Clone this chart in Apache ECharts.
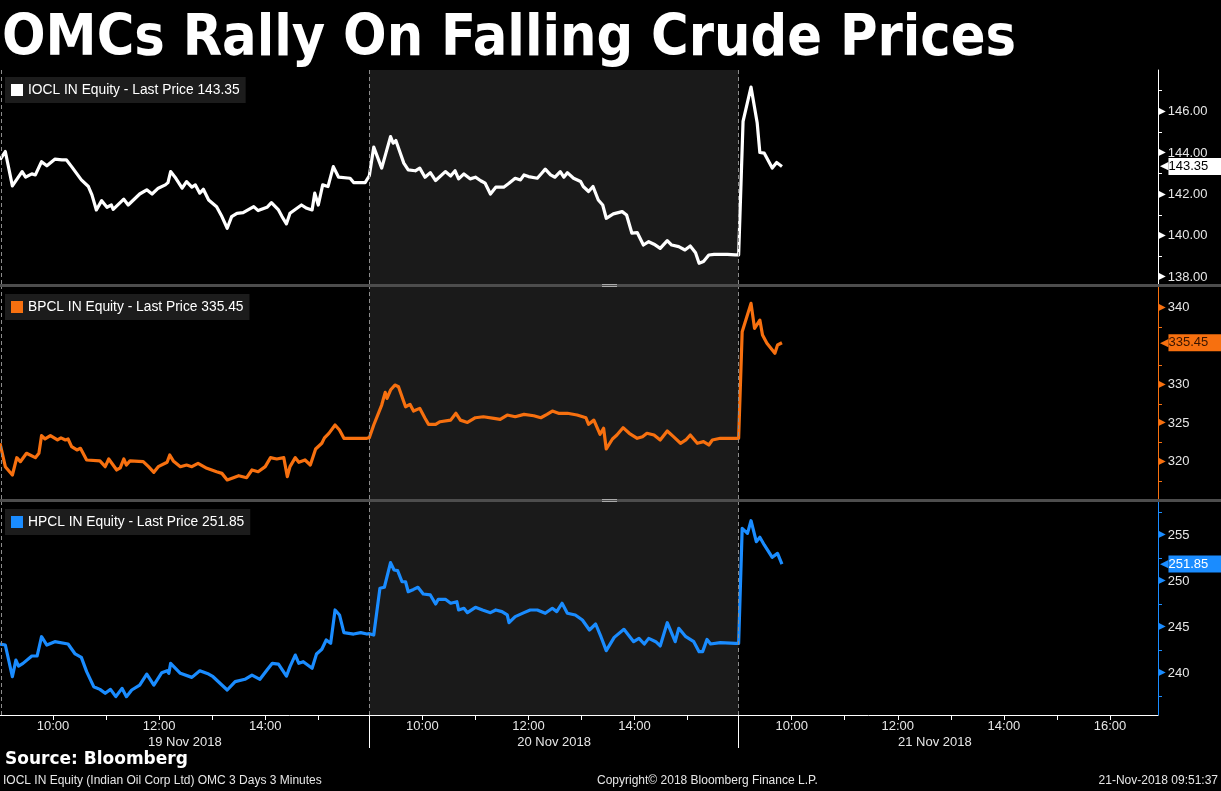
<!DOCTYPE html>
<html>
<head>
<meta charset="utf-8">
<script src="https://cdn.jsdelivr.net/npm/echarts@6/dist/echarts.min.js"></script>
<style>
html,body{margin:0;padding:0;background:#000;}
#chart{width:1221px;height:791px;}
</style>
</head>
<body>
<div id="chart"></div>
<script>
// ---------- data ----------
const TITLE = 'OMCs Rally On Falling Crude Prices';
const DATES = ['19 Nov 2018', '20 Nov 2018', '21 Nov 2018'];
const HOUR_LABELS = [['10:00','12:00','14:00'], ['10:00','12:00','14:00'], ['10:00','12:00','14:00','16:00']];
const HOUR_TICKS = [['10:00','11:00','12:00','13:00','14:00','15:00'],
                    ['10:00','11:00','12:00','13:00','14:00','15:00'],
                    ['10:00','11:00','12:00','13:00','14:00','15:00','16:00']];
const DATE_LABEL_TIME = ['12:29', '12:29', '12:42'];

const NAMES = ['IOCL IN Equity - Last Price 143.35', 'BPCL IN Equity - Last Price 335.45', 'HPCL IN Equity - Last Price 251.85'];
const LAST = [143.35, 335.45, 251.85];

const IOCL_LABELS = [138, 140, 142, 144, 146];
const IOCL_MINOR = [139, 141, 143, 145, 147];
const BPCL_LABELS = [320, 325, 330, 340];
const BPCL_MINOR = [317.5, 322.5, 327.5, 332.5, 337.5];
const HPCL_LABELS = [240, 245, 250, 255];
const HPCL_MINOR = [237.5, 242.5, 247.5, 252.5, 257.5];

const IOCL_19 = [['09:00',143.67],['09:06',144.07],['09:14',142.41],['09:25',143.10],['09:29',142.83],['09:36',142.99],['09:40',142.94],['09:47',143.58],['09:53',143.38],['10:02',143.70],['10:10',143.67],['10:15',143.67],['10:21',143.34],['10:32',142.70],['10:40',142.38],['10:44',141.98],['10:49',141.25],['10:55',141.70],['11:01',141.38],['11:06',141.49],['11:08',141.28],['11:20',141.77],['11:25',141.49],['11:38',142.02],['11:46',142.22],['11:52',142.02],['11:59',142.30],['12:07',142.46],['12:10',142.57],['12:13',143.10],['12:18',142.83],['12:26',142.30],['12:31',142.62],['12:37',142.35],['12:41',142.46],['12:46',142.06],['12:50',142.25],['12:56',141.73],['13:05',141.41],['13:11',140.93],['13:17',140.37],['13:22',140.93],['13:28',141.09],['13:35',141.12],['13:47',141.41],['13:52',141.22],['14:02',141.38],['14:07',141.60],['14:15',141.25],['14:19',140.93],['14:24',140.58],['14:28',141.09],['14:41',141.49],['14:47',141.33],['14:53',141.25],['14:56',142.06],['15:00',141.49],['15:05',142.46],['15:11',142.38],['15:17',143.34],['15:23',142.83],['15:36',142.78],['15:40',142.57],['15:53',142.57]];
const IOCL_20 = [['09:00',142.90],['09:05',144.28],['09:14',143.27],['09:24',144.79],['09:27',144.47],['09:30',144.60],['09:39',143.51],['09:44',143.18],['09:52',143.14],['09:57',143.27],['10:03',142.83],['10:09',143.05],['10:15',142.67],['10:26',143.10],['10:32',142.89],['10:37',143.14],['10:41',142.75],['10:47',142.99],['10:54',142.75],['11:00',142.83],['11:06',142.66],['11:11',142.54],['11:17',142.02],['11:23',142.35],['11:32',142.35],['11:38',142.54],['11:45',142.78],['11:51',142.70],['11:55',142.94],['12:00',142.86],['12:10',142.78],['12:15',143.02],['12:19',143.22],['12:25',142.94],['12:30',142.83],['12:36',143.10],['12:40',142.83],['12:44',143.05],['12:51',142.78],['12:59',142.62],['13:02',142.38],['13:08',142.14],['13:13',142.38],['13:19',141.73],['13:24',141.49],['13:28',140.85],['13:36',141.06],['13:46',141.17],['13:51',141.01],['13:57',140.13],['14:03',140.16],['14:10',139.56],['14:16',139.72],['14:22',139.60],['14:29',139.40],['14:37',139.77],['14:42',139.56],['14:50',139.48],['14:57',139.32],['15:03',139.51],['15:09',139.19],['15:13',138.68],['15:18',138.76],['15:24',139.08],['15:30',139.11],['15:45',139.11],['15:54',139.08]];
const IOCL_21 = [['09:00',139.08],['09:05',145.52],['09:14',147.18],['09:21',145.44],['09:24',144.02],['09:29',143.99],['09:38',143.27],['09:43',143.54],['09:49',143.35]];

const BPCL_19 = [['09:00',322.39],['09:06',319.35],['09:14',318.27],['09:19',320.52],['09:23',320.00],['09:30',321.09],['09:40',320.52],['09:44',321.09],['09:47',323.38],['09:51',322.95],['09:57',323.38],['10:05',322.82],['10:09',323.10],['10:14',322.82],['10:17',322.95],['10:21',321.95],['10:27',321.52],['10:31',321.74],['10:38',320.22],['10:53',320.10],['10:59',319.35],['11:03',320.35],['11:12',318.92],['11:16',319.20],['11:20',320.35],['11:23',319.57],['11:27',320.10],['11:42',320.00],['11:48',319.35],['11:54',318.62],['11:59',319.35],['12:09',319.92],['12:12',320.87],['12:16',320.10],['12:24',319.35],['12:31',319.57],['12:37',319.35],['12:44',319.79],['12:54',319.14],['13:05',318.70],['13:11',318.48],['13:17',317.62],['13:24',317.92],['13:30',318.18],['13:39',317.92],['13:45',318.92],['13:52',318.70],['14:00',319.35],['14:06',320.52],['14:13',320.35],['14:21',320.52],['14:25',318.05],['14:28',319.35],['14:34',320.52],['14:38',319.92],['14:45',320.22],['14:51',319.57],['14:57',321.65],['15:04',322.39],['15:07',323.10],['15:12',323.68],['15:19',324.77],['15:24',324.12],['15:29',323.04],['15:40',323.04],['15:55',323.04]];
const BPCL_20 = [['09:00',323.12],['09:05',324.77],['09:14',327.36],['09:18',329.01],['09:20',328.23],['09:24',329.31],['09:29',329.96],['09:33',329.74],['09:41',327.14],['09:46',327.45],['09:50',326.58],['09:57',326.93],['10:03',325.64],['10:07',324.85],['10:15',324.85],['10:20',325.19],['10:32',325.40],['10:38',326.29],['10:43',325.40],['10:51',325.10],['11:00',325.71],['11:09',325.84],['11:21',325.62],['11:28',325.50],['11:36',326.06],['11:45',325.84],['11:55',326.15],['12:06',325.97],['12:14',325.71],['12:21',326.15],['12:27',326.58],['12:34',326.29],['12:44',326.29],['12:55',326.06],['13:05',325.71],['13:08',324.85],['13:14',325.40],['13:21',323.56],['13:25',324.34],['13:28',321.65],['13:35',322.95],['13:40',323.47],['13:47',324.42],['13:54',323.69],['14:03',323.04],['14:09',323.25],['14:14',323.69],['14:22',323.47],['14:29',322.82],['14:37',323.99],['14:44',323.25],['14:52',322.39],['14:58',322.82],['15:03',323.47],['15:11',322.39],['15:18',322.60],['15:24',322.17],['15:28',322.82],['15:37',323.04],['15:54',323.04]];
const BPCL_21 = [['09:00',323.04],['09:04',336.88],['09:14',340.57],['09:18',337.32],['09:24',338.40],['09:27',336.45],['09:32',335.38],['09:41',334.08],['09:44',335.16],['09:49',335.45]];

const HPCL_19 = [['09:00',243.18],['09:06',243.07],['09:14',239.63],['09:18',241.44],['09:21',240.79],['09:26',241.08],['09:36',241.88],['09:42',241.88],['09:47',243.97],['09:53',243.07],['10:02',243.43],['10:17',243.18],['10:25',242.10],['10:32',241.73],['10:38',240.18],['10:46',238.55],['10:53',238.26],['10:59',237.83],['11:05',238.26],['11:11',237.47],['11:18',238.37],['11:23',237.47],['11:29',238.19],['11:38',238.73],['11:46',239.92],['11:54',238.73],['12:03',240.07],['12:09',240.28],['12:11',240.00],['12:13',241.08],['12:24',240.00],['12:37',239.56],['12:46',240.28],['12:56',239.92],['13:01',239.63],['13:17',238.19],['13:26',239.10],['13:37',239.35],['13:45',239.81],['13:54',239.35],['14:02',240.36],['14:08',241.08],['14:15',241.00],['14:24',239.70],['14:28',240.72],['14:34',241.98],['14:38',241.08],['14:43',241.26],['14:53',240.54],['14:58',242.10],['15:04',242.61],['15:09',243.62],['15:14',243.25],['15:19',246.87],['15:24',246.33],['15:29',244.41],['15:40',244.26],['15:48',244.41],['15:55',244.26]];
const HPCL_20 = [['09:00',244.30],['09:05',244.15],['09:12',249.22],['09:17',249.33],['09:24',252.00],['09:28',251.20],['09:32',251.13],['09:37',249.93],['09:41',249.93],['09:44',248.85],['09:50',249.10],['09:55',249.33],['10:01',248.60],['10:09',248.50],['10:15',247.52],['10:18',248.03],['10:26',248.03],['10:32',247.60],['10:39',247.77],['10:41',246.87],['10:47',247.05],['10:51',246.58],['11:00',247.16],['11:08',246.87],['11:17',246.58],['11:23',246.87],['11:30',246.69],['11:36',246.33],['11:38',245.49],['11:45',246.15],['11:55',246.58],['12:02',246.87],['12:10',246.87],['12:19',246.51],['12:27',247.05],['12:32',246.69],['12:38',247.60],['12:44',246.51],['12:53',246.33],['13:01',245.78],['13:09',244.70],['13:16',245.35],['13:22',243.97],['13:28',242.46],['13:37',243.90],['13:48',244.77],['13:59',243.43],['14:05',243.79],['14:11',243.18],['14:16',243.79],['14:24',243.43],['14:29',242.97],['14:37',245.49],['14:46',243.43],['14:50',244.88],['14:58',243.97],['15:07',243.43],['15:13',242.35],['15:17',242.35],['15:22',243.68],['15:26',243.18],['15:37',243.32],['15:54',243.25]];
const HPCL_21 = [['09:00',243.25],['09:04',255.72],['09:10',255.18],['09:14',256.55],['09:20',254.28],['09:24',254.75],['09:29',253.92],['09:38',252.58],['09:44',253.01],['09:49',251.85]];

// ---------- layout / scale helpers ----------
const PX_PER_HOUR = 53;
const DAY = 369 / PX_PER_HOUR;       // session width in axis hours
const XMAX = 1157 / PX_PER_HOUR;
const COLORS = ['#ffffff', '#f7700f', '#1a8cff'];
const TAG_TEXT = ['#000000', '#3a1500', '#ffffff'];
const TXT = '#e6e6e6';

function toX(day, t) {
  const p = t.split(':').map(Number);
  return day * DAY + (p[0] - 9) + p[1] / 60;
}
function build(days) {
  const out = [];
  days.forEach((arr, d) => arr.forEach(pt => out.push([toX(d, pt[0]), pt[1]])));
  return out;
}
const seriesData = [build([IOCL_19, IOCL_20, IOCL_21]), build([BPCL_19, BPCL_20, BPCL_21]), build([HPCL_19, HPCL_20, HPCL_21])];

const hourTickVals = [], hourLabelVals = [], hourLabelMap = {};
HOUR_TICKS.forEach((arr, d) => arr.forEach(t => hourTickVals.push(toX(d, t))));
HOUR_LABELS.forEach((arr, d) => arr.forEach(t => { const v = toX(d, t); hourLabelVals.push(v); hourLabelMap[v.toFixed(4)] = t; }));
const dateLabelVals = [], dateMap = {};
DATES.forEach((s, d) => { const v = toX(d, DATE_LABEL_TIME[d]); dateLabelVals.push(v); dateMap[v.toFixed(4)] = s; });

const grids = [
  {left: 0, right: 63, top: 70, height: 214},
  {left: 0, right: 63, top: 287, height: 212},
  {left: 0, right: 63, top: 502, height: 213}
];
const yRanges = [[137.68, 148.0], [315.15, 342.7], [235.48, 258.58]];
const yLabels = [IOCL_LABELS, BPCL_LABELS, HPCL_LABELS];
const yMinor = [IOCL_MINOR, BPCL_MINOR, HPCL_MINOR];
const yDec = [2, 0, 0];

const xAxes = grids.map((g, i) => ({
  type: 'value', gridIndex: i, min: 0, max: XMAX,
  show: i === 2,
  axisLine: {show: true, onZero: false, lineStyle: {color: '#ffffff', width: 1}},
  axisTick: {show: true, customValues: hourTickVals, length: 5, lineStyle: {color: '#ffffff'}},
  axisLabel: {show: true, customValues: hourLabelVals, margin: 5, color: TXT, fontSize: 13,
    fontFamily: 'Liberation Sans', formatter: v => hourLabelMap[v.toFixed(4)] || ''},
  splitLine: {show: false}
}));
xAxes.push({
  type: 'value', gridIndex: 2, min: 0, max: XMAX, position: 'bottom',
  axisLine: {show: false, onZero: false},
  axisTick: {show: true, customValues: [DAY, 2 * DAY], length: 33, lineStyle: {color: '#ffffff', width: 1}},
  axisLabel: {show: true, customValues: dateLabelVals, margin: 21, color: TXT, fontSize: 13,
    fontFamily: 'Liberation Sans', formatter: v => dateMap[v.toFixed(4)] || ''},
  splitLine: {show: false}
});

const yAxes = grids.map((g, i) => ({
  type: 'value', gridIndex: i, position: 'right', min: yRanges[i][0], max: yRanges[i][1],
  axisLine: {show: true, onZero: false, lineStyle: {color: COLORS[i], width: 1}},
  axisTick: {show: true, customValues: yMinor[i], length: 4, inside: false, lineStyle: {color: COLORS[i]}},
  axisLabel: {show: true, customValues: yLabels[i], margin: 0, inside: false,
    formatter: v => '{a|\u25B6}{t|' + v.toFixed(yDec[i]) + '}',
    rich: {
      a: {color: COLORS[i], fontSize: 10, fontFamily: 'DejaVu Sans', padding: [0, 0, 1, 0]},
      t: {color: TXT, fontSize: 13, fontFamily: 'Liberation Sans', padding: [0, 0, 0, 2]}
    }},
  splitLine: {show: false}
}));

const series = seriesData.map((data, i) => ({
  name: NAMES[i], type: 'line', xAxisIndex: i, yAxisIndex: i, data: data,
  color: COLORS[i], symbol: 'none', showSymbol: false, clip: false,
  lineStyle: {color: COLORS[i], width: 3.2, join: 'round'},
  z: 3,
  markArea: {silent: true, itemStyle: {color: '#1a1a1a'}, data: [[{xAxis: DAY}, {xAxis: 2 * DAY}]]},
  markLine: {
    silent: true, symbol: ['none', 'none'], animation: false,
    label: {show: false},
    lineStyle: {type: [4, 3], color: '#8c8c8c', width: 1},
    data: [
      {xAxis: 0.02}, {xAxis: DAY}, {xAxis: 2 * DAY},
      {yAxis: LAST[i], lineStyle: {color: 'rgba(0,0,0,0)', width: 1, type: 'solid'},
        label: {show: true, position: 'end', distance: 2,
          formatter: '{p|\u25C0}{v|' + LAST[i].toFixed(2) + '}',
          rich: {
            p: {color: COLORS[i], fontSize: 11, fontFamily: 'DejaVu Sans', lineHeight: 17, padding: [0, 0, 0, 0]},
            v: {color: TAG_TEXT[i], backgroundColor: COLORS[i], fontSize: 13, fontFamily: 'Liberation Sans',
                lineHeight: 17, height: 17, padding: [0, 16, 0, 0]}
          }}}
    ]
  }
}));

const legends = grids.map((g, i) => ({
  data: [NAMES[i]], left: 5, top: g.top + 7, orient: 'horizontal',
  backgroundColor: '#1c1c1c', padding: [6, 6, 6, 6],
  icon: 'rect', itemWidth: 12, itemHeight: 12, itemGap: 5, selectedMode: false,
  textStyle: {color: '#ffffff', fontSize: 13.8, fontFamily: 'Liberation Sans', padding: [0, 0, 0, 0]}
}));

const titles = [
  {text: TITLE, left: 2, top: 12, padding: 0,
    textStyle: {color: '#ffffff', fontSize: 57, fontWeight: 'bold', fontFamily: "'DejaVu Sans Condensed', 'Liberation Sans Narrow', 'DejaVu Sans', sans-serif"}},
  {text: 'Source: Bloomberg', left: 5, top: 751, padding: 0,
    textStyle: {color: '#ffffff', fontSize: 17, fontWeight: 'bold', fontFamily: 'DejaVu Sans'}},
  {text: 'IOCL IN Equity (Indian Oil Corp Ltd) OMC 3 Days 3 Minutes', left: 3, top: 775, padding: 0,
    textStyle: {color: TXT, fontSize: 12, fontWeight: 'normal', fontFamily: 'Liberation Sans'}},
  {text: 'Copyright\u00A9 2018 Bloomberg Finance L.P.', left: 597, top: 775, padding: 0,
    textStyle: {color: TXT, fontSize: 12, fontWeight: 'normal', fontFamily: 'Liberation Sans'}},
  {text: '21-Nov-2018 09:51:37', right: 3, top: 775, padding: 0,
    textStyle: {color: TXT, fontSize: 12, fontWeight: 'normal', fontFamily: 'Liberation Sans'}}
];

const graphics = [];
[284, 499].forEach(y => {
  graphics.push({type: 'rect', left: 0, top: y, shape: {width: 1221, height: 3}, style: {fill: '#4d4d4d'}, z: 10});
  graphics.push({type: 'rect', left: 602, top: y, shape: {width: 15, height: 1}, style: {fill: '#aaaaaa'}, z: 11});
  graphics.push({type: 'rect', left: 602, top: y + 2, shape: {width: 15, height: 1}, style: {fill: '#aaaaaa'}, z: 11});
});

const chart = echarts.init(document.getElementById('chart'), null, {renderer: 'canvas'});
chart.setOption({
  backgroundColor: '#000000',
  animation: false,
  title: titles,
  legend: legends,
  grid: grids,
  xAxis: xAxes,
  yAxis: yAxes,
  series: series,
  graphic: graphics
});
</script>
</body>
</html>
